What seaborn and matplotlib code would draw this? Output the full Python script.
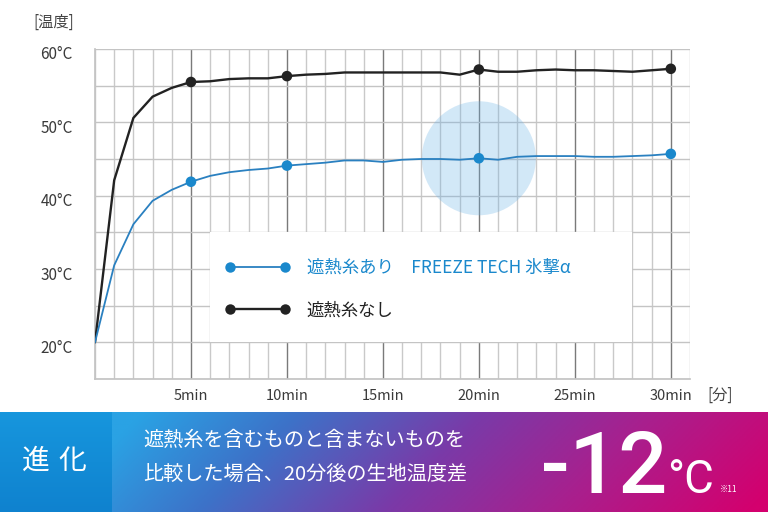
import numpy as np
import pandas as pd
import matplotlib
matplotlib.use("Agg")
import matplotlib.pyplot as plt
import seaborn as sns
from matplotlib.lines import Line2D
from matplotlib.patches import Rectangle, Ellipse
from matplotlib.colors import LinearSegmentedColormap
import matplotlib.transforms as mtransforms

# ---------------- data ----------------
minutes = list(range(0, 31))
temp_with = [20, 30.5, 36.1, 39.3, 40.8, 41.9, 42.7, 43.2, 43.5, 43.7,
             44.1, 44.3, 44.5, 44.8, 44.8, 44.6, 44.9, 45.0, 45.0, 44.9,
             45.1, 44.9, 45.3, 45.4, 45.4, 45.4, 45.3, 45.3, 45.4, 45.5, 45.7]
temp_without = [20, 42.1, 50.6, 53.5, 54.7, 55.5, 55.6, 55.9, 56.0, 56.0,
                56.3, 56.5, 56.6, 56.8, 56.8, 56.8, 56.8, 56.8, 56.8, 56.5,
                57.2, 56.9, 56.9, 57.1, 57.2, 57.1, 57.1, 57.0, 56.9, 57.1, 57.3]
marker_minutes = [5, 10, 20, 30]
highlight_minute = 20
x_tick_values = [5, 10, 15, 20, 25, 30]
x_tick_labels = ["5min", "10min", "15min", "20min", "25min", "30min"]
y_tick_values = [20, 30, 40, 50, 60]
y_tick_labels = ["20°C", "30°C", "40°C", "50°C", "60°C"]
label_with = "遮熱糸あり　FREEZE TECH 氷撃α"
label_without = "遮熱糸なし"

df = pd.DataFrame({"minute": minutes, "with": temp_with, "without": temp_without})
mk = df[df["minute"].isin(marker_minutes)]

BLUE = "#1a88cc"
BLUE_LINE = "#2a80c0"
BLACK = "#222222"

sns.set_theme(style="white")
plt.rcParams["font.family"] = ["Noto Sans CJK JP", "DejaVu Sans"]

W, H = 768, 512
fig = plt.figure(figsize=(W / 100, H / 100), dpi=100)


def px(x, y):
    return x / W, 1 - y / H


ax = fig.add_axes([95 / W, 1 - 379 / H, (690 - 95) / W, (379 - 49) / H])
ax.set_xlim(0, 31)
ax.set_ylim(15, 60)

# grid
ax.set_xticks(x_tick_values)
ax.set_xticklabels(x_tick_labels)
ax.set_xticks(range(0, 32), minor=True)
ax.set_yticks(y_tick_values)
ax.set_yticklabels(y_tick_labels)
ax.set_yticks(range(15, 61, 5), minor=True)
ax.set_axisbelow(True)
ax.grid(which="minor", axis="x", color="#c9c9c9", linewidth=1.0)
ax.grid(which="major", axis="x", color="#7a7a7a", linewidth=1.0)
ax.grid(which="both", axis="y", color="#c4c4c4", linewidth=1.0)
for s in ax.spines.values():
    s.set_visible(False)
ax.spines["left"].set_visible(True)
ax.spines["left"].set_color("#c4c4c4")
ax.spines["bottom"].set_visible(True)
ax.spines["bottom"].set_color("#c4c4c4")
ax.tick_params(which="both", length=0)
ax.tick_params(axis="y", pad=16, labelsize=11, labelcolor="#3a3a3a")
ax.tick_params(axis="x", pad=7, labelsize=10.5, labelcolor="#3a3a3a")
off = mtransforms.ScaledTranslation(0, -4 / 100, fig.dpi_scale_trans)
for lbl in ax.get_yticklabels():
    lbl.set_transform(lbl.get_transform() + off)

# highlight circle
ax.add_patch(Ellipse((highlight_minute, df.loc[df.minute == highlight_minute, "with"].iloc[0]),
                     width=2 * 57 / 19.19, height=2 * 57 / 7.333,
                     facecolor="#6db3e6", alpha=0.3, edgecolor="none", zorder=0.8))

# legend background box
ax.add_patch(Rectangle((6, 20), 22, 15, facecolor="white", edgecolor="none", zorder=1))

# lines
sns.lineplot(data=df, x="minute", y="without", color=BLACK, linewidth=1.7, ax=ax, zorder=3)
sns.lineplot(data=df, x="minute", y="with", color=BLUE_LINE, linewidth=1.3, ax=ax, zorder=3)
sns.scatterplot(data=mk, x="minute", y="without", color=BLACK, s=58, edgecolor="none", ax=ax, zorder=4)
sns.scatterplot(data=mk, x="minute", y="with", color=BLUE, s=58, edgecolor="none", ax=ax, zorder=4)
ax.set_xlabel("")
ax.set_ylabel("")

handles = [Line2D([], [], color=BLUE_LINE, lw=1.3, marker="o", markersize=7.5,
                  markerfacecolor=BLUE, markeredgecolor="none"),
           Line2D([], [], color=BLACK, lw=1.7, marker="o", markersize=7.5,
                  markerfacecolor=BLACK, markeredgecolor="none")]
leg = ax.legend(handles, [label_with, label_without], loc="center left",
                bbox_to_anchor=px(224.8, 289), bbox_transform=fig.transFigure,
                frameon=False, numpoints=2, fontsize=12.5, handlelength=3.76,
                handletextpad=0.97, labelspacing=1.42, borderpad=0, borderaxespad=0)
leg.get_texts()[0].set_color(BLUE)
leg.get_texts()[1].set_color(BLACK)
leg.set_zorder(5)

fig.text(*px(33, 22), "[温度]", fontsize=11, color="#444444", va="center", ha="left")
fig.text(*px(707, 395), "[分]", fontsize=11, color="#444444", va="center", ha="left")

# ---------------- banner ----------------
bax = fig.add_axes([0, 0, 1, 100 / H])
bax.set_xlim(0, W)
bax.set_ylim(0, 100)
bax.axis("off")
cmap = LinearSegmentedColormap.from_list(
    "band", [(0.0, "#2aa2e4"), (0.22, "#3d72c8"), (0.48, "#7a3aa8"),
             (0.72, "#a8208e"), (1.0, "#d4006e")])
gx = np.linspace(0, 1, 400)
gy = np.linspace(0, 1, 60)
GX, GY = np.meshgrid(gx, gy)
T = np.clip(GX * 0.92 + GY * 0.14 - 0.04, 0, 1)
img = cmap(T)
bax.imshow(img, extent=(112, W, 0, 100), origin="upper", aspect="auto", zorder=0)
cmap2 = LinearSegmentedColormap.from_list("box", ["#1796dd", "#0f82cf"])
bimg = cmap2(np.linspace(0, 1, 60))[:, None, :]
bax.imshow(bimg, extent=(0, 112, 0, 100), origin="upper", aspect="auto", zorder=0)

fig.text(*px(36, 461), "進", fontsize=20, color="white", ha="center", va="center")
fig.text(*px(72.5, 461), "化", fontsize=20, color="white", ha="center", va="center")
fig.text(*px(143, 441), "遮熱糸を含むものと含まないものを", fontsize=14.5, color="white",
         ha="left", va="center")
fig.text(*px(143, 474), "比較した場合、20分後の生地温度差", fontsize=14.5, color="white",
         ha="left", va="center")
fig.text(*px(541, 493), "-12", fontsize=62, color="white", ha="left", va="baseline",
         family=["Roboto", "DejaVu Sans"], fontweight="medium")
fig.text(*px(667, 493), "°C", fontsize=33, color="white", ha="left", va="baseline",
         family=["Roboto", "DejaVu Sans"])
fig.text(*px(720, 489), "※11", fontsize=6, color="white", ha="left", va="center")

fig.savefig("out.png", dpi=100)
